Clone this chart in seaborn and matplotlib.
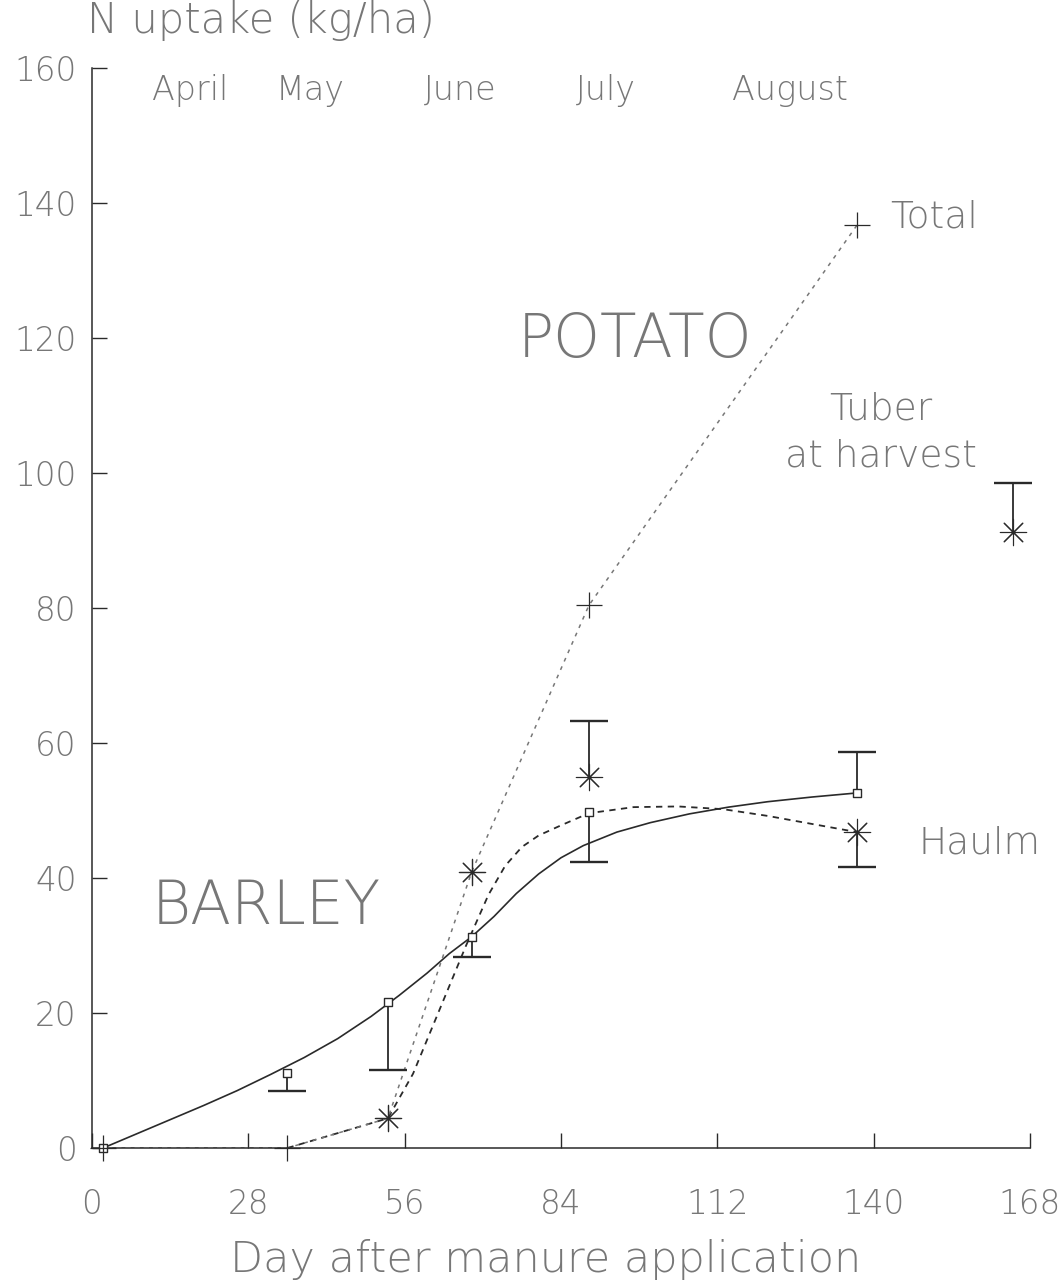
import numpy as np
import pandas as pd
import matplotlib
matplotlib.use("Agg")
import matplotlib.pyplot as plt
import seaborn as sns

# ---------------- data ----------------
months = ["April", "May", "June", "July", "August"]
month_day = [17.5, 39, 66, 92, 125]

# barley: fitted uptake curve and measured points (square markers)
barley_fit_day = [2, 8, 14, 20, 26, 32, 38, 44, 50, 55, 60, 64, 68, 72, 76, 80, 84, 88,
                  94, 100, 107, 114, 121, 129, 137]
barley_fit_n = [0, 2.1, 4.2, 6.3, 8.5, 10.9, 13.4, 16.2, 19.5, 22.6, 25.9, 28.8, 31.3,
                34.3, 37.7, 40.6, 43.0, 44.8, 46.8, 48.2, 49.5, 50.5, 51.3, 52.0, 52.6]
barley_day = [2, 35, 53, 68, 89, 137]
barley_n = [0, 11.1, 21.6, 31.3, 49.8, 52.6]
barley_bar_end = [np.nan, 8.4, 11.6, 28.3, 42.4, 58.7]

# potato haulm: fitted curve and measured points (asterisks)
haulm_fit_day = [35, 53, 57.5, 62, 67, 71, 74, 77, 80, 84, 89, 97, 105, 113, 121, 129, 137]
haulm_fit_n = [0, 4.4, 11.0, 20.0, 30.0, 37.5, 41.8, 44.6, 46.3, 47.8, 49.6, 50.5, 50.6,
               50.2, 49.2, 48.0, 46.8]
haulm_day = [53, 68, 89, 137]
haulm_n = [4.4, 40.9, 55.0, 46.8]
haulm_bar_end = [np.nan, np.nan, 63.3, 41.6]

# potato total (plus markers)
total_day = [2, 35, 53, 68, 89, 137]
total_n = [0, 0, 4.4, 40.9, 80.4, 136.7]

# tuber N at harvest
tuber_day = [165]
tuber_n = [91.3]
tuber_bar_end = [98.5]

# ---------------- style ----------------
sns.set_style("ticks")
plt.rcParams["font.family"] = ["DejaVu Sans"]
plt.rcParams["font.weight"] = "light"
TXT = "#777777"
INK = "#2a2a2a"

W, H = 1062, 1285
fig = plt.figure(figsize=(W / 100, H / 100), dpi=100)
x0, x1, ytop, ybot = 92, 1030, 68, 1148
ax = fig.add_axes([x0 / W, 1 - ybot / H, (x1 - x0) / W, (ybot - ytop) / H])

# fitted curves and the total line
sns.lineplot(x=barley_fit_day, y=barley_fit_n, ax=ax, color=INK, lw=1.2,
             sort=False, estimator=None)
sns.lineplot(x=haulm_fit_day, y=haulm_fit_n, ax=ax, color=INK, lw=1.3,
             linestyle=(0, (3.5, 3)), sort=False, estimator=None)
sns.lineplot(x=total_day, y=total_n, ax=ax, color="#777777", lw=1.1,
             linestyle=(0, (2.5, 3.5)), sort=False, estimator=None)


def one_sided_bars(days, vals, ends):
    """Vertical bar from each value to its bar end, with a cap only at the end."""
    frame = pd.DataFrame({"day": days, "n": vals, "end": ends}).dropna()
    ax.vlines(frame["day"], frame["n"], frame["end"], color=INK, lw=1.3, zorder=3)
    ax.plot(frame["day"], frame["end"], ls="none", marker="_", ms=27, mew=1.7,
            color=INK, zorder=3, clip_on=False)


one_sided_bars(barley_day, barley_n, barley_bar_end)
one_sided_bars(haulm_day, haulm_n, haulm_bar_end)
one_sided_bars(tuber_day, tuber_n, tuber_bar_end)

# markers
sns.scatterplot(x=barley_day, y=barley_n, ax=ax, marker="s", s=28,
                facecolor="white", edgecolor=INK, linewidth=1.0, zorder=4, clip_on=False)
asterisk = (8, 2, 0)
sns.scatterplot(x=haulm_day + tuber_day, y=haulm_n + tuber_n, ax=ax, marker=asterisk,
                s=360, color=INK, linewidth=0.8, zorder=4, clip_on=False)
sns.scatterplot(x=total_day, y=total_n, ax=ax, marker="+", s=360,
                color=INK, linewidth=0.9, zorder=4, clip_on=False)

# axes
ax.set_xlim(0, 168)
ax.set_ylim(0, 160)
ax.set_xticks(np.arange(0, 169, 28))
ax.set_yticks(np.arange(0, 161, 20))
for side in ("top", "right"):
    ax.spines[side].set_visible(False)
for side in ("left", "bottom"):
    ax.spines[side].set_color(INK)
    ax.spines[side].set_linewidth(1.1)
ax.tick_params(direction="in", length=11, width=1.0, color=INK,
               labelsize=23.5, labelcolor=TXT)
ax.tick_params(axis="x", pad=29)
ax.tick_params(axis="y", pad=11)
ax.set_xlabel("")
ax.set_ylabel("")

# month labels along the top
for m, d in zip(months, month_day):
    ax.text(d, 155.3, m, ha="center", va="baseline", fontsize=24, color=TXT)

# annotations
ax.text(97.3, 119.7, "POTATO", ha="center", va="center", fontsize=43, color=TXT)
ax.text(31.2, 35.7, "BARLEY", ha="center", va="center", fontsize=43, color=TXT)
ax.text(143, 136.3, "Total", ha="left", va="baseline", fontsize=27, color=TXT)
ax.text(148, 43.7, "Haulm", ha="left", va="baseline", fontsize=27, color=TXT)
ax.text(141.3, 107.9, "Tuber", ha="center", va="baseline", fontsize=27, color=TXT)
ax.text(141.3, 100.9, "at harvest", ha="center", va="baseline", fontsize=27, color=TXT)

fig.text(87 / W, 1 - 33 / H, "N uptake (kg/ha)", ha="left", va="baseline",
         fontsize=30, color=TXT)
fig.text(546 / W, 1 - 1272 / H, "Day after manure application", ha="center",
         va="baseline", fontsize=31, color=TXT)

fig.savefig("out.png", dpi=100, facecolor="white")
